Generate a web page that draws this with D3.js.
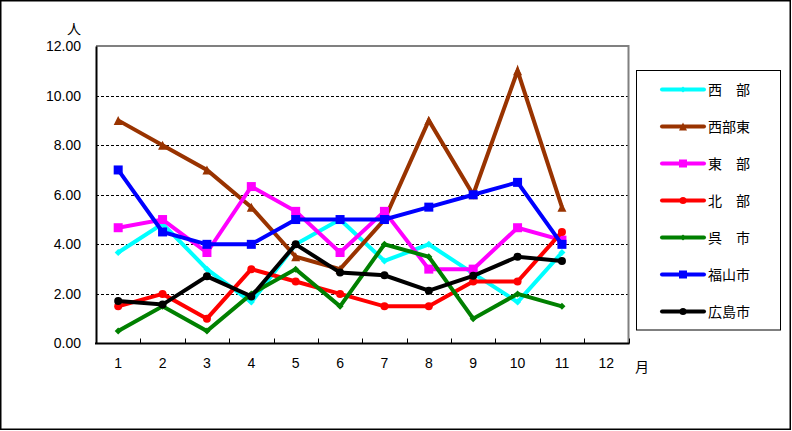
<!DOCTYPE html>
<html lang="ja">
    <head>
        <meta charset="utf-8">
        <title>月別</title>
        <script src="https://d3js.org/d3.v7.min.js"></script>
        <style>
            body { margin: 0; background: #fff; }
            text { font-family: "Liberation Sans", Arial, sans-serif; }
            .jp { font-family: "Noto Sans CJK JP", sans-serif; }
        </style>
    </head>
    <body>
    <div id="mainDiv"></div>

        <script type="text/javascript">
            const width = 792
            const height = 431

            // data
            const months = ['1', '2', '3', '4', '5', '6', '7', '8', '9', '10', '11', '12']
            const yTicks = [0, 2, 4, 6, 8, 10, 12]
            const seriesNames = ['西　部', '西部東', '東　部', '北　部', '呉　市', '福山市', '広島市']
            const seibu    = [3.67, 4.83, 3.0, 1.67, 4.0, 5.0, 3.33, 4.0, 2.83, 1.67, 3.67]
            const seibuHig = [9, 8, 7, 5.5, 3.5, 3.0, 5.0, 9, 6, 11, 5.5]
            const toubu    = [4.67, 5.0, 3.67, 6.33, 5.33, 3.67, 5.33, 3.0, 3.0, 4.67, 4.17]
            const hokubu   = [1.5, 2.0, 1.0, 3.0, 2.5, 2.0, 1.5, 1.5, 2.5, 2.5, 4.5]
            const kure     = [0.5, 1.5, 0.5, 2.0, 3.0, 1.5, 4.0, 3.5, 1.0, 2.0, 1.5]
            const fukuyama = [7, 4.5, 4, 4, 5, 5, 5, 5.5, 6, 6.5, 4]
            const hiroshima = [1.71, 1.57, 2.71, 1.9, 4.0, 2.86, 2.75, 2.13, 2.73, 3.5, 3.33]

            const series = [
                { name: seriesNames[0], values: seibu, color: '#00ffff', marker: 'diamond' },
                { name: seriesNames[1], values: seibuHig, color: '#993300', marker: 'triangle' },
                { name: seriesNames[2], values: toubu, color: '#ff00ff', marker: 'square' },
                { name: seriesNames[3], values: hokubu, color: '#ff0000', marker: 'circle' },
                { name: seriesNames[4], values: kure, color: '#008000', marker: 'diamond' },
                { name: seriesNames[5], values: fukuyama, color: '#0000ff', marker: 'square' },
                { name: seriesNames[6], values: hiroshima, color: '#000000', marker: 'circle' }
            ]

            const plot = { left: 96, right: 628.5, top: 46, bottom: 343.5 }

            const svg = d3.select('#mainDiv').append('svg')
                .attr('width', width)
                .attr('height', height)

            // outer frame
            svg.append('rect')
                .attr('x', 0.75).attr('y', 0.75)
                .attr('width', 789.5).attr('height', 428.5)
                .attr('fill', '#fff')
                .attr('stroke', '#000')
                .attr('stroke-width', 1.5)

            const xScale = d3.scaleBand()
                .domain(months)
                .range([plot.left, plot.right])
            const yScale = d3.scaleLinear()
                .domain([0, 12])
                .range([plot.bottom, plot.top])

            // grid lines
            svg.append('g')
                .selectAll('line')
                .data(yTicks.filter(d => d > 0 && d < 12))
                .join('line')
                .attr('x1', plot.left).attr('x2', plot.right)
                .attr('y1', d => Math.round(yScale(d)) + 0.5)
                .attr('y2', d => Math.round(yScale(d)) + 0.5)
                .attr('stroke', '#000')
                .attr('stroke-width', 1)
                .attr('stroke-dasharray', '3,2')

            // gray top / right border
            svg.append('path')
                .attr('d', `M${plot.left},${plot.top} H${plot.right} V${plot.bottom}`)
                .attr('fill', 'none')
                .attr('stroke', '#808080')
                .attr('stroke-width', 2)

            // y axis
            const yAxis = d3.axisLeft(yScale)
                .tickValues(yTicks)
                .tickFormat(d3.format('.2f'))
                .tickSize(0)
                .tickPadding(15)
            const gy = svg.append('g')
                .attr('transform', `translate(${plot.left},0)`)
                .call(yAxis)
            gy.select('.domain').attr('stroke', '#000').attr('stroke-width', 2)
            gy.selectAll('text').style('font-size', '14px').attr('fill', '#000')

            // x axis, ticks between categories pointing up
            const gx = svg.append('g')
                .attr('transform', `translate(0,${plot.bottom})`)
            gx.append('line')
                .attr('x1', plot.left - 1).attr('x2', plot.right + 1)
                .attr('stroke', '#000').attr('stroke-width', 2)
            gx.selectAll('.tk')
                .data(months)
                .join('line')
                .attr('class', 'tk')
                .attr('x1', d => Math.round(xScale(d) + xScale.bandwidth()) + 0.5)
                .attr('x2', d => Math.round(xScale(d) + xScale.bandwidth()) + 0.5)
                .attr('y1', 0).attr('y2', -5)
                .attr('stroke', '#000')
            gx.selectAll('text')
                .data(months)
                .join('text')
                .attr('x', d => xScale(d) + xScale.bandwidth() / 2)
                .attr('y', 24)
                .attr('text-anchor', 'middle')
                .style('font-size', '14px')
                .text(d => d)

            // unit labels
            svg.append('text').attr('class', 'jp')
                .attr('x', 74).attr('y', 34)
                .attr('text-anchor', 'middle')
                .style('font-size', '14px')
                .text('人')
            svg.append('text').attr('class', 'jp')
                .attr('x', 642).attr('y', 372)
                .attr('text-anchor', 'middle')
                .style('font-size', '14px')
                .text('月')

            const xPos = (i) => xScale(months[i]) + xScale.bandwidth() / 2

            function drawMarker(g, type, color, x, y, s) {
                if (type === 'square') {
                    g.append('rect').attr('x', x - s / 2).attr('y', y - s / 2)
                        .attr('width', s).attr('height', s).attr('fill', color)
                } else if (type === 'circle') {
                    g.append('circle').attr('cx', x).attr('cy', y).attr('r', s / 2).attr('fill', color)
                } else if (type === 'triangle') {
                    g.append('path')
                        .attr('d', `M${x},${y - s / 2} L${x + s / 2},${y + s / 2} L${x - s / 2},${y + s / 2} Z`)
                        .attr('fill', color)
                } else {
                    g.append('path')
                        .attr('d', `M${x},${y - s / 2} L${x + s / 2},${y} L${x},${y + s / 2} L${x - s / 2},${y} Z`)
                        .attr('fill', color)
                }
            }
            const markerSize = { square: 9, circle: 8, triangle: 9, diamond: 7 }

            const line = d3.line()
                .x((d, i) => xPos(i))
                .y(d => yScale(d))

            series.forEach(s => {
                const g = svg.append('g')
                g.append('path')
                    .datum(s.values)
                    .attr('d', line)
                    .attr('fill', 'none')
                    .attr('stroke', s.color)
                    .attr('stroke-width', 4)
                    .attr('stroke-linejoin', 'miter')
                s.values.forEach((v, i) => {
                    drawMarker(g, s.marker, s.color, xPos(i), yScale(v), markerSize[s.marker])
                })
            })

            // legend
            const legend = svg.append('g')
            legend.append('rect')
                .attr('x', 636.5).attr('y', 70.5)
                .attr('width', 144).attr('height', 259.5)
                .attr('fill', '#fff')
                .attr('stroke', '#000')
            series.forEach((s, i) => {
                const ly = 89.5 + i * 37
                legend.append('line')
                    .attr('x1', 662).attr('x2', 704)
                    .attr('y1', ly).attr('y2', ly)
                    .attr('stroke', s.color)
                    .attr('stroke-width', 4)
                    .attr('stroke-linecap', 'round')
                drawMarker(legend, s.marker, s.color, 683, ly, markerSize[s.marker] - 1)
                legend.append('text').attr('class', 'jp')
                    .attr('x', 708).attr('y', ly + 5)
                    .style('font-size', '14px')
                    .text(s.name)
            })
        </script>
    </body>
</html>
